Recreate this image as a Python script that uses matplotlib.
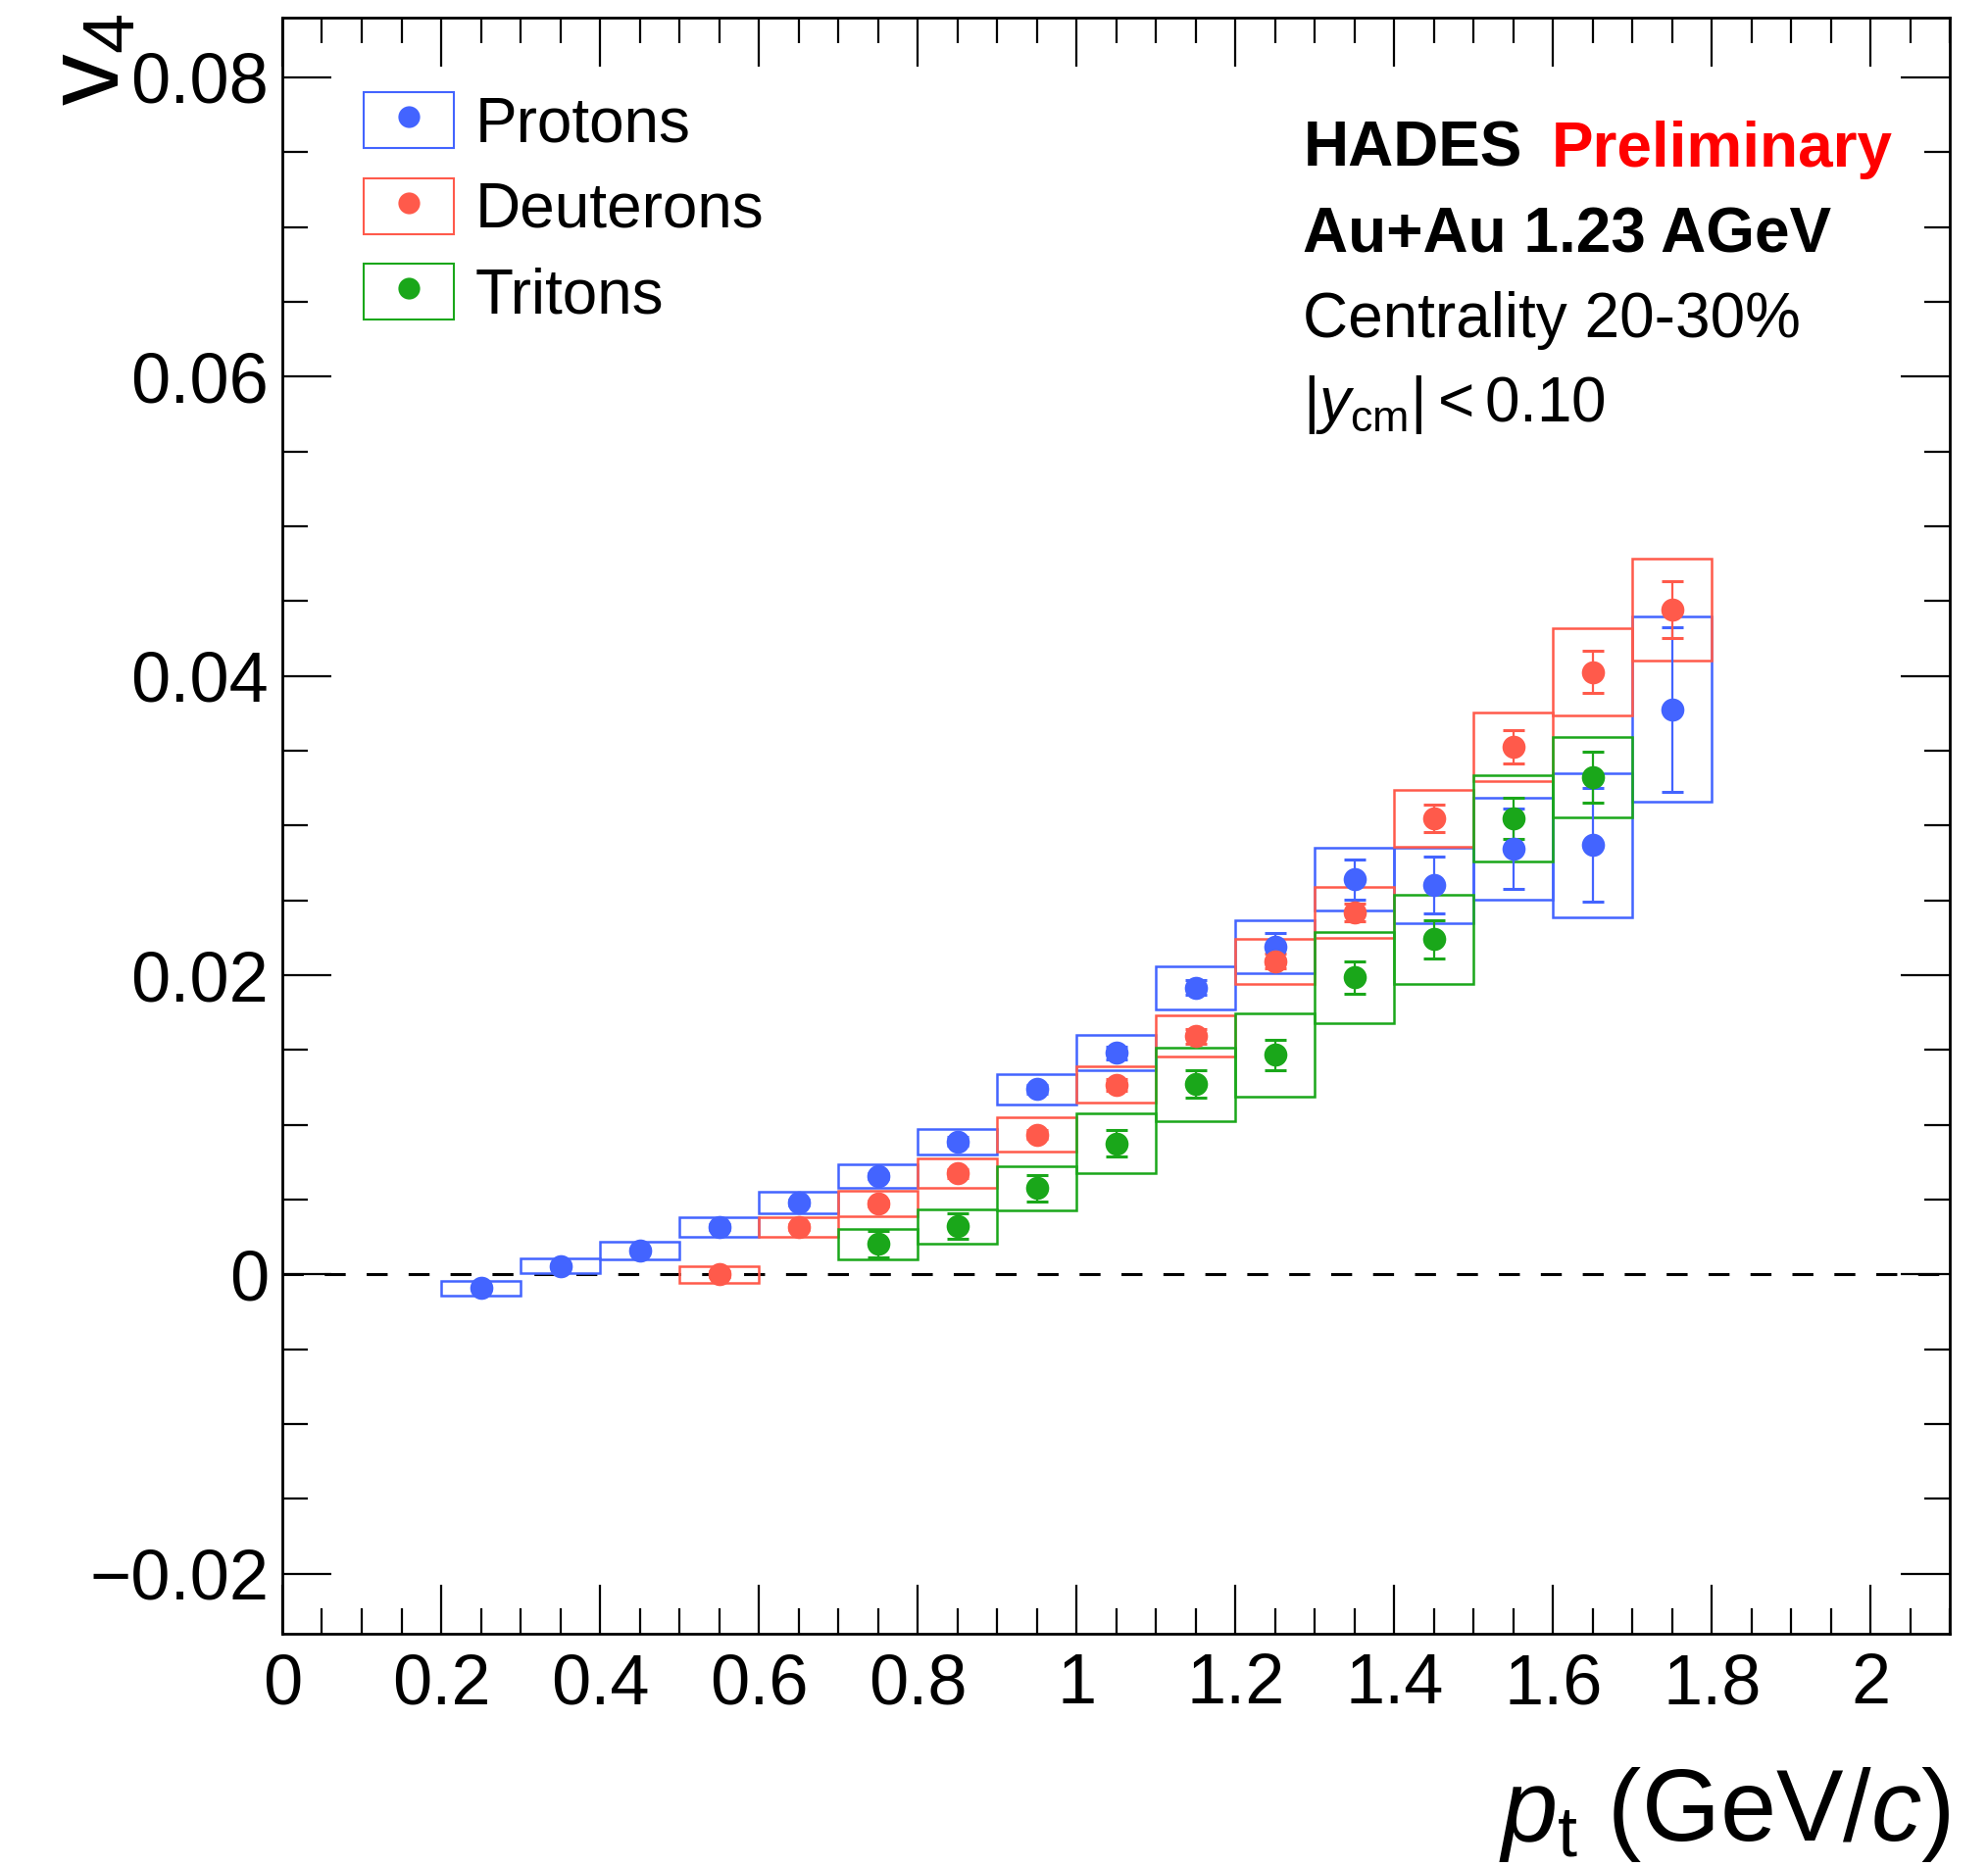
import numpy as np
import matplotlib
matplotlib.use('Agg')
import matplotlib.pyplot as plt
from matplotlib.patches import Rectangle
from matplotlib.lines import Line2D
from matplotlib.legend_handler import HandlerTuple
from matplotlib.ticker import MultipleLocator, FuncFormatter

plt.rcParams['font.family'] = ['Liberation Sans', 'DejaVu Sans']
plt.rcParams['mathtext.fontset'] = 'custom'
plt.rcParams['mathtext.rm'] = 'Liberation Sans'
plt.rcParams['mathtext.it'] = 'Liberation Sans:italic'
plt.rcParams['mathtext.bf'] = 'Liberation Sans:bold'

# data: pt bin centres, v4, stat. error, syst. error (half height of box)
bin_width = 0.1

pt_p = [0.25, 0.35, 0.45, 0.55, 0.65, 0.75, 0.85, 0.95, 1.05, 1.15, 1.25, 1.35, 1.45, 1.55, 1.65, 1.75]
v4_p = [-0.00092, 0.00057, 0.00162, 0.00319, 0.00482, 0.00657, 0.00888, 0.01238, 0.0148, 0.01917,
        0.02192, 0.0264, 0.0260, 0.02844, 0.0287, 0.03777]
stat_p = [0.0001, 0.0001, 0.0001, 0.0002, 0.0002, 0.0002, 0.0003, 0.0003, 0.0004, 0.0005,
          0.0009, 0.00135, 0.0019, 0.0027, 0.0038, 0.0055]
sys_p = [0.00047, 0.0005, 0.0006, 0.00064, 0.00072, 0.00077, 0.00087, 0.001, 0.00118, 0.00145,
         0.00176, 0.0021, 0.0025, 0.0034, 0.0048, 0.0062]

pt_d = [0.55, 0.65, 0.75, 0.85, 0.95, 1.05, 1.15, 1.25, 1.35, 1.45, 1.55, 1.65, 1.75]
v4_d = [0.0, 0.00318, 0.00475, 0.00676, 0.00934, 0.01268, 0.01592, 0.02094, 0.02421, 0.03048,
        0.03525, 0.04027, 0.04446]
stat_d = [0.0002, 0.0002, 0.0002, 0.0003, 0.0003, 0.0004, 0.0005, 0.0005, 0.0006, 0.0009,
          0.0011, 0.0014, 0.0019]
sys_d = [0.00056, 0.00068, 0.00084, 0.001, 0.00114, 0.00122, 0.00137, 0.0015, 0.0017, 0.0019,
         0.0023, 0.0029, 0.0034]

pt_t = [0.75, 0.85, 0.95, 1.05, 1.15, 1.25, 1.35, 1.45, 1.55, 1.65]
v4_t = [0.00204, 0.00322, 0.00576, 0.00877, 0.01273, 0.01467, 0.01985, 0.0224, 0.03048, 0.03324]
stat_t = [0.0009, 0.00085, 0.00088, 0.0009, 0.00094, 0.001, 0.0011, 0.00125, 0.0014, 0.0017]
sys_t = [0.001, 0.00115, 0.0015, 0.002, 0.00246, 0.0028, 0.00305, 0.003, 0.0029, 0.0027]

labels = ['Protons', 'Deuterons', 'Tritons']
colors = ['#4364ff', '#ff5a4b', '#1aa71a']

series = [(pt_p, v4_p, stat_p, sys_p), (pt_d, v4_d, stat_d, sys_d), (pt_t, v4_t, stat_t, sys_t)]

# plot
fig = plt.figure(figsize=(20.28, 19.05), dpi=100)
ax = fig.add_axes([0.142, 0.125, 0.839, 0.8656])

ax.axhline(0, color='black', lw=2.2, dashes=(7, 7), zorder=1)

for i, ((pt, v, st, sy), c) in enumerate(zip(series, colors)):
    pt = np.array(pt); v = np.array(v); st = np.array(st); sy = np.array(sy)
    ax.bar(pt, 2 * sy, width=bin_width, bottom=v - sy, fill=False, edgecolor=c, linewidth=1.8, zorder=2)
    ax.errorbar(pt, v, yerr=st, fmt='none', ecolor=c, elinewidth=1.6,
                capsize=8, capthick=2.2, zorder=3)
    ax.plot(pt, v, ls='none', marker='o', ms=17, mew=0, color=c, zorder=4 + i)

ax.set_xlim(0, 2.1)
ax.set_ylim(-0.024, 0.084)

ax.xaxis.set_major_locator(MultipleLocator(0.2))
ax.xaxis.set_minor_locator(MultipleLocator(0.05))
ax.yaxis.set_major_locator(MultipleLocator(0.02))
ax.yaxis.set_minor_locator(MultipleLocator(0.005))
fmt = FuncFormatter(lambda val, pos: ('%g' % round(val, 4)).replace('-', '\u2212'))
ax.xaxis.set_major_formatter(fmt)
ax.yaxis.set_major_formatter(fmt)

ax.tick_params(which='both', direction='in', top=True, right=True, width=1.6)
ax.tick_params(which='major', length=36, labelsize=52)
ax.tick_params(axis='y', which='major', pad=10)
ax.tick_params(axis='x', which='major', pad=14)
ax.tick_params(which='minor', length=19)
for s in ax.spines.values():
    s.set_linewidth(2)

ax.text(1.0, -0.128, r'$p_{\mathrm{t}}$ (GeV/$c$)', transform=ax.transAxes,
        ha='right', va='baseline', fontsize=74)
ax.text(-0.114, 1.003, r'$\mathrm{v}_{4}$', transform=ax.transAxes, rotation=90,
        ha='center', va='top', fontsize=76)

# legend
handles = [(Rectangle((0, 0), 1, 1, fill=False, edgecolor=c, lw=1.5),
            Line2D([], [], ls='none', marker='o', ms=16, mew=0, color=c)) for c in colors]
ax.legend(handles, labels, handler_map={tuple: HandlerTuple(ndivide=1)}, loc='upper left',
          bbox_to_anchor=(0.049, 0.954), borderaxespad=0, borderpad=0, frameon=False,
          fontsize=46, handlelength=1.44, handleheight=1.0, handletextpad=0.34,
          labelspacing=0.38)

# annotations
ax.text(0.612, 0.908, 'HADES', transform=ax.transAxes, fontsize=46, fontweight='bold')
ax.text(0.761, 0.908, 'Preliminary', transform=ax.transAxes, fontsize=46, fontweight='bold',
        color='#ff0000')
ax.text(0.612, 0.855, 'Au+Au 1.23 AGeV', transform=ax.transAxes, fontsize=46, fontweight='bold')
ax.text(0.612, 0.802, 'Centrality 20-30%', transform=ax.transAxes, fontsize=46)
ax.text(0.612, 0.750, r'$|y_{\mathrm{cm}}| < 0.10$', transform=ax.transAxes, fontsize=46)

fig.savefig('out.png', dpi=100)
